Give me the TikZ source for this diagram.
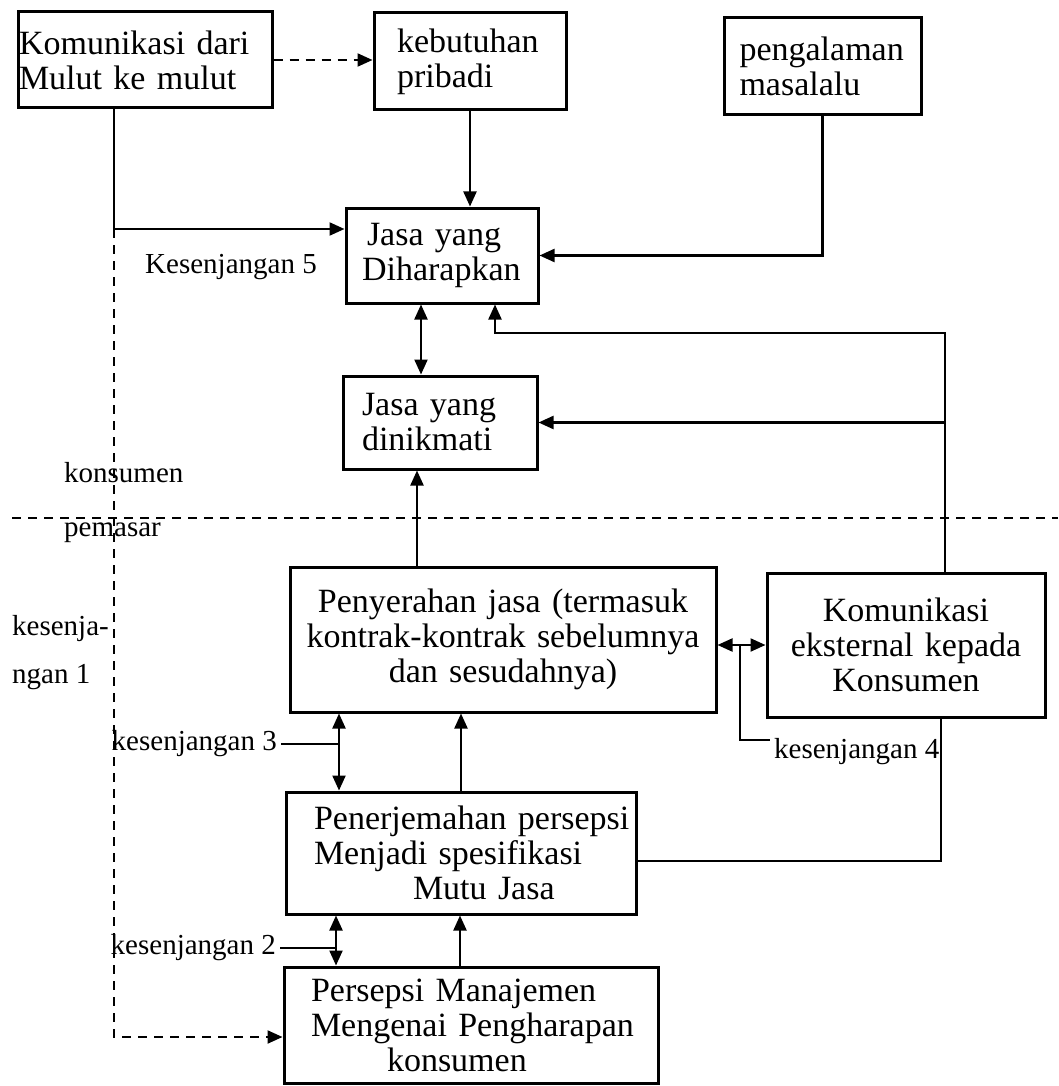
\documentclass[tikz,border=0pt]{standalone}
\usepackage{fontspec}
\setmainfont{Liberation Serif}
\usetikzlibrary{arrows.meta}

\begin{document}
\begin{tikzpicture}[x=1pt, y=-1pt,
    box/.style={draw, line width=3pt, inner sep=0pt, align=left, font=\fontsize{34}{35}\selectfont},
    gaplabel/.style={inner sep=4pt, font=\fontsize{29}{30}\selectfont},
    conn/.style={line width=2.2pt},
    arr/.style={conn, -{Triangle[length=15pt, width=13pt]}},
    darr/.style={conn, {Triangle[length=15pt, width=13pt]}-{Triangle[length=15pt, width=13pt]}},
    dashline/.style={conn, dash pattern=on 9pt off 7pt}]
        \useasboundingbox (0, 0) rectangle (1058, 1086);

        \node[box, minimum width=254pt, minimum height=96pt, text width=252pt] (wom) at (145, 60) {Komunikasi dari\\Mulut ke mulut};

        \node[box, minimum width=192pt, minimum height=97pt, text width=146pt] (needs) at (470, 61.5) {kebutuhan\\pribadi};

        \node[box, minimum width=197pt, minimum height=97pt, text width=166pt] (past) at (822.5, 66.5) {pengalaman\\masalalu};

        \node[box, minimum width=192pt, minimum height=95pt, text width=160pt] (expected) at (442, 255.5) {\hspace*{5pt}Jasa yang\\Diharapkan};

        \node[box, minimum width=194pt, minimum height=93pt, text width=156pt] (perceived) at (440, 422.5) {Jasa yang\\dinikmati};

        \node[box, align=center, minimum width=426pt, minimum height=145pt, text width=410pt] (delivery) at (503, 639.5) {Penyerahan jasa (termasuk\\kontrak-kontrak sebelumnya\\dan sesudahnya)};

        \node[box, align=center, minimum width=278pt, minimum height=144pt, text width=260pt] (extcom) at (906, 645) {Komunikasi\\eksternal kepada\\Konsumen};

        \node[box, minimum width=350pt, minimum height=122pt, text width=340pt] (translation) at (461, 853) {\hspace*{23pt}Penerjemahan persepsi\\\hspace*{23pt}Menjadi spesifikasi\\\hspace*{122pt}Mutu Jasa};

        \node[box, minimum width=374pt, minimum height=116pt, text width=350pt] (mgmt) at (471, 1025) {\hspace*{15pt}Persepsi Manajemen\\\hspace*{15pt}Mengenai Pengharapan\\\hspace*{91pt}konsumen};

        \node[gaplabel] (gap5) at (231, 267) {Kesenjangan 5};
        \node[gaplabel, anchor=west] (consumer) at (60, 473) {konsumen};
        \node[gaplabel, anchor=west] (marketer) at (60, 533) {pemasar};
        \node[gaplabel, anchor=west, align=left, font=\fontsize{29}{48}\selectfont] (gap1) at (8, 653) {kesenja-\\ngan 1};
        \node[gaplabel, anchor=east] (gap3) at (281, 744) {kesenjangan 3};
        \node[gaplabel, anchor=east] (gap2) at (280, 948) {kesenjangan 2};
        \node[gaplabel, anchor=west] (gap4) at (770, 752) {kesenjangan 4};

        \coordinate (split) at (114, 229);
        \coordinate (corner) at (114, 1037);
        \coordinate (rail) at (945, 333);
        \coordinate (tap) at (740, 645);
        \coordinate (g3) at (339, 744);
        \coordinate (g2) at (336, 948);
        \coordinate (divl) at (12, 518);
        \coordinate (divr) at (1058, 518);

        \draw[dashline] (divl) -- (divr);

        \draw[arr, dashline] (wom.east) -- (wom.east -| needs.west);
        \draw[arr] (needs.south) -- (needs.south |- expected.north);
        \draw[arr] (wom.south -| split) -- (split) -- (split -| expected.west);
        \draw[arr, dashline] (split) -- (corner) -- (corner -| mgmt.west);
        \draw[arr] (past.south) |- (expected.east);
        \draw[darr] ([xshift=-21pt]expected.south) -- ([xshift=-21pt]expected.south |- perceived.north);
        \draw[arr] (extcom.north -| rail) -- (rail) -| ([xshift=53pt]expected.south);
        \draw[arr] (rail |- perceived.east) -- (perceived.east);
        \draw[arr] ([xshift=-86pt]delivery.north) -- ([xshift=-86pt]delivery.north |- perceived.south);
        \draw[darr] (delivery.east |- tap) -- (extcom.west |- tap);
        \draw[conn] (tap) |- ([yshift=12pt]gap4.west);
        \draw[conn] ([xshift=35pt]extcom.south) |- ([yshift=-8pt]translation.east);
        \draw[darr] (g3 |- delivery.south) -- (g3 |- translation.north);
        \draw[conn] (gap3) -- (g3);
        \draw[arr] (translation.north) -- (translation.north |- delivery.south);
        \draw[darr] (g2 |- translation.south) -- (g2 |- mgmt.north);
        \draw[conn] (gap2) -- (g2);
        \draw[arr] ([xshift=-11pt]mgmt.north) -- ([xshift=-11pt]mgmt.north |- translation.south);
      \end{tikzpicture}
\end{document}
